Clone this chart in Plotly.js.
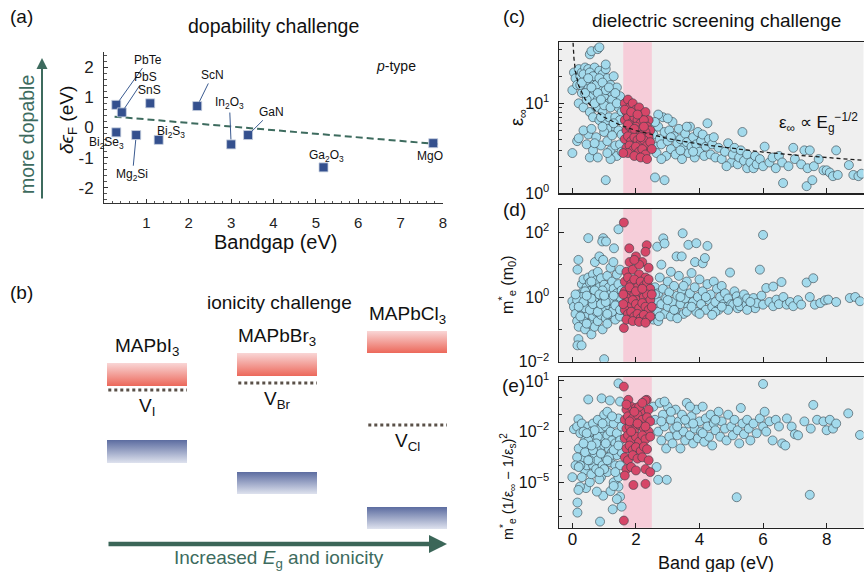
<!DOCTYPE html>
<html><head><meta charset="utf-8">
<script src="https://cdn.plot.ly/plotly-3.0.1.min.js"></script>
<style>html,body{margin:0;padding:0;background:#fff}#chart{width:864px;height:572px}</style>
</head><body><div id="chart"></div>
<script>
// ---------- Panel (a): dopability ----------
const dopNames = ['PbTe','PbS','SnS','ScN','In<sub>2</sub>O<sub>3</sub>','GaN','Bi<sub>2</sub>Se<sub>3</sub>','Mg<sub>2</sub>Si','Bi<sub>2</sub>S<sub>3</sub>','Ga<sub>2</sub>O<sub>3</sub>','MgO'];
const dopGap   = [0.29, 0.42, 1.09, 2.20, 3.00, 3.40, 0.29, 0.76, 1.29, 5.18, 7.77];
const dopShift = [0.75, 0.50, 0.80, 0.71, -0.56, -0.25, -0.16, -0.25, -0.41, -1.32, -0.52];
const fitGap = [0.25, 7.88];
const fitShift = [0.36, -0.55];

// ---------- Panel (b): ionicity schematic (relative energies) ----------
const perovskites = ['MAPbI<sub>3</sub>','MAPbBr<sub>3</sub>','MAPbCl<sub>3</sub>'];
const vacancies = ['V<sub>I</sub>','V<sub>Br</sub>','V<sub>Cl</sub>'];
const cbTop = [-2.65, -2.15, -1.05];
const cbBot = [-3.80, -3.30, -2.15];
const defectLevel = [-4.00, -3.65, -5.75];
const vbTop = [-6.50, -8.10, -9.85];
const vbBot = [-7.65, -9.20, -10.95];

// ---------- Panel (c): eps_inf vs gap ----------
const epsCyan = [[0.0,14],[0.05,22],[0.1,19],[0.15,16],[0.2,24],[0.25,20],[0.3,13],[0.3,22],[0.35,17],[0.4,25],[0.45,21],[0.5,15],[0.5,24],[0.55,19],[0.6,12],[0.6,22],[0.65,17],[0.7,25],[0.7,14],[0.75,20],[0.8,11],[0.8,18],[0.85,23],[0.9,15],[0.95,21],[1.0,12],[1.0,17],[1.05,24],[1.1,14],[1.1,19],[1.15,10],[1.2,16],[1.25,13],[1.3,20],[1.35,11],[1.4,15],[1.45,9],[1.5,12],[1.55,8],
[0.55,35],[0.6,38],[0.8,40],[0.85,42],[1.05,27],[0.2,10],[0.35,9],[0.45,11],[0.55,8],[0.65,7],[0.75,9],[0.85,6.5],[0.95,8],[1.05,6],[1.15,7],[1.25,5.5],[1.35,7],[1.45,5],[1.5,6.5],[1.55,4.5],
[0.25,16],[0.35,21],[0.45,18],[0.55,22],[0.65,20],[0.75,16],[0.85,19],[0.95,17],[1.05,14],[1.15,15],[1.25,11],[1.35,13],[0.4,13],[0.6,15],[0.8,13],[1.0,9.5],[1.2,9],[0.7,10],[0.9,11],[0.3,17],[0.5,19],[1.4,10],[0.9,7],[1.1,5.2],[1.3,6],
[0.0,2.8],[0.15,3.8],[0.2,4.1],[0.45,3.5],[0.5,4.5],[0.55,2.5],[0.65,3],[0.75,4.2],[0.8,2.5],[0.9,3.4],[1.0,4.8],[1.05,1.4],[1.1,3.8],[1.2,3],[1.25,4.4],[1.35,3.4],[1.4,2.6],[1.5,3.5],[1.55,2.9],[0.35,5],[0.6,5.2],[0.95,5.5],[1.2,2.4],[0.7,3.6],[1.1,2.8],
[2.55,4.5],[2.6,3.3],[2.65,2.8],[2.7,5.5],[2.75,4],[2.8,3.5],[2.85,7],[2.9,4.8],[2.95,2.6],[3.0,3.8],[3.05,5],[3.1,3.1],[3.15,6.2],[3.2,4.3],[3.25,2.7],[3.3,3.6],[3.35,5.2],[3.4,4],[3.45,2.4],[3.5,3.2],[3.55,4.6],[3.6,3.7],[3.65,2.8],[3.7,5.5],[3.75,3.3],[3.8,4.2],[3.85,2.5],[3.9,3.5],[3.95,4.8],[4.0,2.9],[4.05,3.8],[4.1,4.5],[4.15,2.6],[4.2,3.3],[4.25,6],[4.3,4],[4.35,2.7],[4.4,3.5],[4.45,4.2],[4.5,2.5],[2.6,1.5],[2.9,1.4],[2.7,7.5],[3.0,6.8],[2.6,6.2],[2.8,2.4],[3.1,4.2],[3.4,3],[3.6,5.5],[3.8,2.9],
[4.6,3.2],[4.7,2.4],[4.8,2.9],[4.9,3.6],[5.0,2.2],[5.05,2.7],[5.1,3.2],[5.2,2.1],[5.25,2.5],[5.3,3.0],[5.4,2.3],[5.5,1.9],[5.5,2.7],[5.6,2.2],[5.7,1.9],[5.75,2.6],[5.8,2.1],[5.9,2.4],[6.0,2.0],[6.05,3.3],[6.2,2.2],[6.3,2.5],[6.4,1.9],[5.35,4.8],[4.85,2.0],[6.5,2.6],
[6.6,2.2],[6.63,1.3],[6.8,2.0],[6.95,3.2],[7.0,2.4],[7.2,2.1],[7.3,3.0],[7.37,1.2],[7.4,1.9],[7.47,3.0],[7.55,1.4],[7.6,2.0],[7.75,2.4],[7.9,1.8],[8.0,1.8],[8.1,1.7],[8.2,1.55],[8.3,3.0],[8.35,1.6],[8.7,2.06],[8.84,1.6],[9.0,1.55],[9.1,1.65]];
const epsRed = [[1.65,10],[1.75,11],[1.7,8],[1.8,9],[1.9,10],[2.0,8.5],[2.1,9],[2.2,7.5],[2.3,8],[2.4,6.5],[1.65,6.5],[1.75,7],[1.85,6],[1.95,7],[2.05,6.5],[2.15,6],[2.25,6.5],[2.35,5.5],[2.45,5],[1.7,5],[1.8,5.5],[1.9,4.8],[2.0,5.5],[2.1,5],[2.2,4.5],[2.3,4.8],[2.4,4.2],[1.65,4],[1.75,4.3],[1.85,3.8],[1.95,4.2],[2.05,3.9],[2.15,3.6],[2.25,3.9],[2.35,3.4],[2.45,3.7],[1.7,3.2],[1.8,3.4],[1.9,3],[2.0,3.3],[2.1,2.9],[2.2,3.1],[2.3,2.7],[1.75,2.8],[1.95,2.6],[2.15,2.5],[2.35,2.4],[1.6,2.8],[2.5,3.1],[1.65,8.5],[1.85,8],[2.05,7.5],[1.75,5.8],[2.25,5.5],[1.95,5.2],[2.15,4.2]];
const epsFitGap = [0.022,0.03,0.05,0.1,0.2,0.4,0.7,1,1.5,2,3,4,5,6,7,8,9.2];
const epsFitVal = [47,40.6,31.5,22.3,15.7,11.1,8.4,7.0,5.75,4.98,4.06,3.52,3.15,2.87,2.66,2.49,2.32];

// ---------- Panel (d): effective mass ----------
const massCyan = [[0.0,0.74],[0.05,0.5],[0.1,0.3],[0.15,0.18],[0.2,0.12],[0.19,14],[0.16,7],[0.19,0.05],[0.16,0.032],[0.29,0.032],[0.2,1.2],[0.25,0.8],[0.3,2.5],[0.3,0.4],[0.35,3.5],[0.35,1.5],[0.35,0.2],[0.4,0.9],[0.4,0.1],[0.45,2],[0.45,0.6],[0.5,4],[0.5,1.2],[0.5,0.3],[0.55,0.15],[0.55,2.8],[0.55,0.8],[0.6,1.6],[0.6,0.45],[0.6,0.07],[0.65,5],[0.65,1],[0.65,0.25],[0.7,2.2],[0.7,0.6],[0.7,0.12],[0.71,12],[0.75,3.3],[0.75,1.3],[0.75,0.35],[0.8,0.8],[0.8,0.18],[0.8,6],[0.85,18],[0.85,2],[0.85,0.5],[0.9,1.1],[0.9,0.28],[0.9,3.8],[0.95,0.7],[0.95,0.1],[0.97,14],[0.97,66],[0.94,52],[1.06,52],[1.0,0.012],[1.0,2.4],[1.0,0.4],[1.05,1.5],[1.05,0.22],[1.1,0.9],[1.1,4.5],[1.1,0.15],[1.15,2],[1.15,0.55],[1.2,1.2],[1.2,0.3],[1.2,8],[1.25,3],[1.25,0.7],[1.29,12],[1.3,0.45],[1.3,1.8],[1.31,32],[1.35,0.9],[1.35,0.2],[1.4,5],[1.4,1.3],[1.4,0.35],[1.45,124],[1.45,0.6],[1.45,2.5],[1.5,1],[1.5,0.25],[1.5,7],[1.55,1.6],[1.55,0.4],[0.5,66],[0.4,1.5],[0.25,0.25],[0.45,0.15],[0.6,3],[0.3,1],[0.15,0.8],[0.1,1.2],[0.5,0.6],[0.95,1.6],[0.7,1.6],[1.15,0.8],[0.25,0.5],[0.4,0.45],[0.55,0.4],[0.65,0.6],[0.8,0.35],[0.9,0.6],[1.05,0.7],[1.25,0.35],[1.35,0.55],[1.5,0.4],[0.6,0.9],[0.85,1.2],[1.0,1.1],[1.3,1.1],[0.35,0.7],[0.45,1.1],[1.1,0.3],[0.2,0.5],
[2.55,0.2],[2.6,0.5],[2.6,2],[2.65,0.8],[2.67,36],[2.7,1.3],[2.7,0.35],[2.75,4],[2.8,0.6],[2.8,10],[2.85,1.8],[2.86,65],[2.9,45],[2.9,0.3],[2.95,0.9],[3.0,3],[3.0,0.5],[3.05,1.4],[3.1,0.25],[3.1,6],[3.15,0.7],[3.2,2.2],[3.25,0.4],[3.28,18],[3.3,1.1],[3.35,4.5],[3.4,0.6],[3.44,18],[3.45,1.6],[3.47,93],[3.5,0.3],[3.55,0.9],[3.6,3],[3.65,41],[3.65,0.5],[3.7,1.3],[3.75,5.5],[3.8,0.7],[3.86,12],[3.85,2],[3.9,46],[3.9,0.35],[3.95,1],[4.0,3.5],[4.05,0.6],[4.1,11],[4.1,1.5],[4.17,16],[4.2,0.4],[4.25,38],[4.25,2.5],[4.3,0.8],[4.35,1.2],[4.4,0.5],[4.45,3],[4.5,0.7],[4.55,1.8],[4.6,0.4],[4.65,1],[4.7,2.2],[4.75,0.6],[4.8,1.3],[4.85,0.5],[4.9,0.9],[4.96,5.7],[5.0,0.6],[5.06,0.58],[5.1,1.5],[5.17,1.05],[5.2,0.45],[5.27,0.52],[5.3,0.8],[5.4,1.2],[5.48,0.58],[5.5,0.9],[5.6,0.5],[5.7,0.93],[5.75,0.45],[5.8,0.65],[5.9,7],[5.95,1.1],[6.0,0.58],[6.0,83],[6.1,1.9],[6.2,0.7],[6.32,2.1],[6.32,0.52],[6.42,0.83],[6.5,0.6],[6.58,2.9],[6.64,1.0],[6.74,0.58],[6.85,0.7],[6.95,0.52],[7.1,0.8],[7.2,0.58],[7.37,2.8],[7.47,1.0],[7.58,3.8],[7.63,0.58],[7.8,0.65],[7.95,0.79],[8.05,0.83],[8.3,0.7],[8.73,0.93],[8.9,1.0],[9.05,0.74],[4.0,0.3],[3.3,0.22],[2.7,0.18],[5.5,0.4],[4.5,0.35],[2.75,0.25],[3.2,0.4],[3.6,0.35],[3.75,0.5],[4.4,0.28],[4.9,0.4],[3.0,0.8],[3.4,1.0],[2.6,1.2],[3.5,2.2],[4.2,1.0],[4.7,0.5],[5.2,0.7],[5.6,0.7]];
const massRed = [[1.62,200],[1.62,0.11],[1.79,32],[2.34,40],[2.3,25],[2.0,18],[1.8,12],[2.2,12],[2.4,8],[1.7,6],[1.9,7],[2.1,5],[2.3,4],[1.65,3],[1.75,4],[1.85,2.5],[1.95,3.5],[2.05,2],[2.15,3],[2.25,2.2],[2.35,2.8],[2.45,1.8],[1.65,1.5],[1.75,1],[1.85,1.6],[1.95,1.2],[2.05,0.9],[2.15,1.4],[2.25,1],[2.35,1.2],[2.45,0.8],[1.7,0.7],[1.8,0.5],[1.9,0.8],[2.0,0.6],[2.1,0.45],[2.2,0.65],[2.3,0.5],[2.4,0.4],[1.65,0.4],[1.75,0.3],[1.85,0.35],[1.95,0.25],[2.05,0.3],[2.15,0.22],[2.25,0.28],[2.35,0.2],[2.45,0.25],[1.7,0.2],[1.9,0.18],[2.1,0.17],[2.3,0.16],[1.8,2],[2.0,1.5],[2.2,1.8],[2.4,3.5],[1.6,0.6],[1.6,1.2],[2.5,0.5],[2.5,1.2],[2.1,10],[1.95,14]];

// ---------- Panel (e): screened mass figure ----------
const scrCyan = [[1.45,7.2],[0.5,0.8],[0.92,0.93],[1.18,0.7],[1.5,0.6],[0.05,0.014],[0.19,0.054],[0.15,0.02],[0.3,0.03],[0.25,0.008],[0.0,2e-5],[0.16,1.6e-7],[0.16,6.3e-7],[0.87,4.7e-8],[1.27,2.5e-7],[1.55,3.6e-7],[1.5,1.4e-6],[0.97,1.6e-6],[0.77,2.8e-6],[0.43,4.5e-6],[0.24,5.5e-6],[0.19,3.5e-6],[1.45,5.5e-6],
[0.3,1e-3],[0.35,3e-4],[0.4,3e-3],[0.4,5e-5],[0.45,1e-4],[0.5,1e-3],[0.5,2e-2],[0.55,5e-4],[0.55,1e-5],[0.6,4e-3],[0.6,3e-5],[0.65,1e-4],[0.65,0.03],[0.7,1.5e-3],[0.7,4e-4],[0.75,8e-3],[0.75,6e-5],[0.8,2e-4],[0.8,0.05],[0.85,3e-3],[0.85,8e-4],[0.9,1.5e-2],[0.9,2e-5],[0.95,1e-4],[0.95,5e-3],[1.0,1.5e-3],[1.0,0.1],[1.05,3e-4],[1.05,0.02],[1.1,6e-3],[1.1,4e-5],[1.15,1e-3],[1.15,0.04],[1.2,1.5e-4],[1.2,1e-2],[1.25,3e-3],[1.25,6e-4],[1.3,0.03],[1.3,1e-5],[1.35,2e-3],[1.35,1e-4],[1.4,8e-3],[1.4,4e-4],[1.45,0.06],[1.45,2e-5],[1.5,3e-3],[1.5,1e-4],[1.55,0.02],[1.55,6e-4],[0.35,0.01],[0.2,1e-3],[0.15,3e-4],[0.1,1e-4],[0.25,1e-4],[0.3,2e-5],[0.45,1.5e-3],[0.6,0.01],[0.7,3e-3],[0.85,1.5e-5],[1.0,6e-5],[1.2,3e-6],[1.3,6e-6],[1.4,1e-6],[1.1,0.15],[0.8,5e-3],[0.5,3e-3],[0.4,6e-4],[0.55,2e-4],[0.65,8e-4],[0.75,2e-3],[0.9,5e-4],[1.05,2e-3],[1.15,3e-4],[1.3,8e-4],[1.45,1.5e-3],[0.6,1.5e-3],[0.95,0.03],[1.25,0.08],[0.7,0.012],[0.45,8e-3],[0.35,2e-3],[0.5,2e-4],[0.85,4e-5],[1.1,2e-4],[1.35,4e-5],[0.2,8e-5],
[2.55,0.3],[2.6,0.05],[2.65,8e-5],[2.7,1.4e-5],[2.97,1.4e-5],[2.7,0.01],[2.75,0.5],[2.8,3e-3],[2.85,0.1],[2.9,0.02],[2.95,1e-3],[3.0,0.3],[3.05,5e-3],[3.1,0.05],[3.15,2e-3],[3.2,0.015],[3.25,0.2],[3.3,6e-3],[3.35,0.04],[3.4,1e-3],[3.45,0.1],[3.5,0.01],[3.55,3e-3],[3.6,0.5],[3.65,0.03],[3.7,6e-3],[3.75,0.08],[3.8,2e-3],[3.85,0.015],[3.9,0.2],[3.95,4e-3],[4.0,0.04],[4.05,0.01],[4.1,0.3],[4.15,2.5e-3],[4.2,0.06],[4.25,0.02],[4.3,5e-3],[4.35,0.1],[4.4,1.5e-3],[4.45,0.03],[4.5,0.012],[4.6,0.15],[4.65,5e-3],[4.7,0.04],[4.8,0.015],[4.85,3e-3],[4.9,0.1],[5.0,0.02],[5.05,6e-3],[5.1,0.05],[5.17,1.3e-6],[5.2,0.012],[5.25,2e-3],[5.3,0.25],[5.35,0.03],[5.4,7e-3],[5.5,0.05],[5.55,0.015],[5.6,3e-3],[5.7,0.03],[5.8,8e-3],[5.9,0.06],[6.0,6.6],[6.0,0.02],[6.05,0.15],[6.1,0.01],[6.2,0.04],[6.3,3e-3],[6.4,0.05],[6.5,0.02],[6.6,2e-3],[6.7,1.5e-3],[6.75,0.06],[6.9,0.02],[7.0,7e-3],[7.1,6e-3],[7.3,0.04],[7.47,1.8e-6],[7.5,0.015],[7.58,0.38],[7.7,0.05],[7.9,0.04],[8.0,0.012],[8.1,0.05],[8.2,0.015],[8.3,0.03],[8.68,0.12],[9.05,6.3e-3],[2.9,0.6],[3.3,0.02],[3.55,0.05],[3.8,0.03],[4.1,0.008],[4.5,0.05],[2.8,0.04],[3.1,0.15],[3.7,0.3]];
const scrRed = [[1.62,4.6],[1.62,5.4e-8],[1.92,6.9e-6],[2.3,8e-6],[1.76,0.76],[2.34,0.76],[2.3,0.7],[1.7,0.2],[1.85,0.3],[2.0,0.25],[2.15,0.15],[2.4,0.2],[1.65,0.05],[1.75,0.08],[1.9,0.06],[2.05,0.1],[2.2,0.05],[2.35,0.07],[2.45,0.04],[1.7,0.015],[1.8,0.02],[1.95,0.012],[2.1,0.025],[2.25,0.015],[2.4,0.01],[1.65,4e-3],[1.75,6e-3],[1.85,3e-3],[2.0,5e-3],[2.1,2.5e-3],[2.2,6e-3],[2.3,3.5e-3],[2.45,5e-3],[1.7,1e-3],[1.8,1.5e-3],[1.9,8e-4],[2.0,1.2e-3],[2.15,7e-4],[2.25,1.3e-3],[2.35,9e-4],[1.65,3e-4],[1.75,2e-4],[1.9,4e-4],[2.05,2.5e-4],[2.2,3e-4],[2.4,2e-4],[1.7,6e-5],[1.85,8e-5],[2.0,5e-5],[2.3,6e-5],[2.45,4e-5],[1.65,2.5e-5],[1.8,0.04],[2.1,0.3],[2.2,0.5],[1.95,0.15],[1.7,0.4],[2.05,0.03],[2.3,0.02],[1.85,0.01]];

// ---------- figure ----------
const W = 864, H = 572;
const px = X => X / W, py = Y => 1 - Y / H;
const FONT = 'Liberation Sans, Arial, Helvetica, sans-serif';
const TEAL = '#3d6b5e';
const CYAN = 'rgb(163,218,236)', RED = 'rgb(214,70,104)', EDGE = 'rgba(50,65,72,0.85)';
const xs = a => a.map(p => p[0]), ys = a => a.map(p => p[1]);

const traces = [];
// (a)
traces.push({x: fitGap, y: fitShift, xaxis:'x', yaxis:'y', mode:'lines', line:{color:TEAL, width:2, dash:'7px,4px'}, hoverinfo:'skip'});
traces.push({x: dopGap, y: dopShift, xaxis:'x', yaxis:'y', mode:'markers', marker:{symbol:'square', size:9, color:'#34508e', line:{color:'#c8d0e0', width:0.8}}, text: dopNames});

// (b) bars with vertical gradients
const hw = 0.3077;
perovskites.forEach((m, i) => {
  traces.push({x:[i-hw,i+hw,i+hw,i-hw,i-hw], y:[cbBot[i],cbBot[i],cbTop[i],cbTop[i],cbBot[i]], xaxis:'x2', yaxis:'y2', mode:'lines', line:{width:0}, fill:'toself',
    fillgradient:{type:'vertical', colorscale:[[0,'rgb(236,104,90)'],[1,'rgb(249,214,214)']]}, hoverinfo:'skip'});
  traces.push({x:[i-hw,i+hw,i+hw,i-hw,i-hw], y:[vbBot[i],vbBot[i],vbTop[i],vbTop[i],vbBot[i]], xaxis:'x2', yaxis:'y2', mode:'lines', line:{width:0}, fill:'toself',
    fillgradient:{type:'vertical', colorscale:[[0,'rgb(222,226,238)'],[1,'rgb(92,108,160)']]}, hoverinfo:'skip'});
  traces.push({x:[i-hw+0.01,i+hw], y:[defectLevel[i],defectLevel[i]], xaxis:'x2', yaxis:'y2', mode:'lines', line:{color:'#5a5048', width:3, dash:'dot'}, hoverinfo:'skip'});
});

// (c)(d)(e)
const sc = (d, xa, ya, col) => ({x: xs(d), y: ys(d), xaxis: xa, yaxis: ya, mode:'markers', marker:{size:9, color:col, line:{color:EDGE, width:0.7}}, hoverinfo:'x+y'});
traces.push(sc(epsCyan,'x3','y3',CYAN));
traces.push(sc(epsRed,'x3','y3',RED));
traces.push({x: epsFitGap, y: epsFitVal, xaxis:'x3', yaxis:'y3', mode:'lines', line:{color:'#1a1a1a', width:1.3, dash:'4px,3px'}, hoverinfo:'skip'});
traces.push(sc(massCyan,'x4','y4',CYAN));
traces.push(sc(massRed,'x4','y4',RED));
traces.push(sc(scrCyan,'x5','y5',CYAN));
traces.push(sc(scrRed,'x5','y5',RED));

const rightDom = [px(558.7), px(863.5)];
const xr = [-0.43, 9.16];
const baseX = {domain: rightDom, range: xr, tickvals:[0,2,4,6,8], ticks:'inside', ticklen:5, tickcolor:'#222', showline:true, mirror:true, linecolor:'#222', linewidth:1.2, showgrid:false, zeroline:false, showticklabels:false};
const baseY = {type:'log', ticks:'inside', ticklen:5, tickcolor:'#222', showline:true, mirror:true, linecolor:'#222', linewidth:1.2, showgrid:false, zeroline:false, tickfont:{size:16, color:'#111'}, ticklabelstandoff:5};

const layout = {
  width: W, height: H, margin:{l:0,r:0,t:0,b:0}, paper_bgcolor:'#fff', plot_bgcolor:'rgba(0,0,0,0)', showlegend:false,
  font:{family: FONT, color:'#222', size:14},
  xaxis:{domain:[px(104), px(443)], range:[0,8], anchor:'y', tickvals:[1,2,3,4,5,6,7,8], ticks:'inside', ticklen:4, tickcolor:'#333',
    minor:{ticks:'inside', ticklen:2.5, dtick:0.2, tickcolor:'#555'}, showline:true, linecolor:'#333', linewidth:1, showgrid:false, zeroline:false,
    tickfont:{size:15, color:'#222'}, ticklabelstandoff:6},
  yaxis:{domain:[py(203), py(52)], range:[-2.5,2.5], anchor:'x', tickvals:[-2,-1,0,1,2], ticktext:['-2','-1','0','1','2'], ticks:'inside', ticklen:4, tickcolor:'#333',
    minor:{ticks:'inside', ticklen:2.5, dtick:0.2, tickcolor:'#555'}, showline:true, linecolor:'#333', linewidth:1, showgrid:false, zeroline:false,
    tickfont:{size:17, color:'#222'}, ticklabelstandoff:6},
  xaxis2:{domain:[px(107), px(447)], range:[-hw, 2+hw], anchor:'y2', visible:false},
  yaxis2:{domain:[py(550), py(310)], range:[-12, 0], anchor:'x2', visible:false},
  xaxis3:Object.assign({}, baseX, {anchor:'y3'}),
  xaxis4:Object.assign({}, baseX, {anchor:'y4', matches:'x3'}),
  xaxis5:Object.assign({}, baseX, {anchor:'y5', matches:'x3', showticklabels:true, tickfont:{size:17, color:'#111'}, ticklabelstandoff:-4}),
  yaxis3:Object.assign({}, baseY, {domain:[py(193.3), py(42.3)], anchor:'x3', range:[0, 1.678], tickvals:[1,10], ticktext:['10<sup>0</sup>','10<sup>1</sup>'],
    minor:{ticks:'inside', ticklen:3, tickcolor:'#333', tickvals:[2,3,4,5,6,7,8,9,20,30,40]}}),
  yaxis4:Object.assign({}, baseY, {domain:[py(361.7), py(209)], anchor:'x4', range:[-2, 2.72], tickvals:[0.01,1,100], ticktext:['10<sup>−2</sup>','10<sup>0</sup>','10<sup>2</sup>'],
    minor:{ticks:'inside', ticklen:3, tickcolor:'#333', tickvals:[0.1,10]}}),
  yaxis5:Object.assign({}, baseY, {domain:[py(527.7), py(376.7)], anchor:'x5', range:[-7.69, 1.25], tickvals:[1e-5,1e-2,10], ticktext:['10<sup>−5</sup>','10<sup>−2</sup>','10<sup>1</sup>'],
    minor:{ticks:'inside', ticklen:3, tickcolor:'#333', tickvals:[1e-7,1e-6,1e-4,1e-3,1e-1,1]}}),
  shapes: [],
  annotations: []
};

['3','4','5'].forEach(k => {
  layout.shapes.push({type:'rect', xref:'x'+k+' domain', yref:'y'+k+' domain', x0:0, x1:1, y0:0, y1:1, fillcolor:'#efefef', line:{width:0}, layer:'below'});
  layout.shapes.push({type:'rect', xref:'x'+k, yref:'y'+k+' domain', x0:1.6, x1:2.5, y0:0, y1:1, fillcolor:'#f6cdd9', line:{width:0}, layer:'below'});
});

const A = layout.annotations;
const txt = (X, Y, text, size, extra) => A.push(Object.assign({xref:'paper', yref:'paper', x:px(X), y:py(Y), xanchor:'center', yanchor:'middle', text, showarrow:false, font:{size, family:FONT, color:'#111'}}, extra||{}));

// panel labels & titles
txt(21, 17, '(a)', 19); txt(21, 293, '(b)', 19); txt(514, 17, '(c)', 19); txt(514, 209, '(d)', 19); txt(513, 385, '(e)', 19);
txt(273, 26, 'dopability challenge', 19.5);
txt(279, 302, 'ionicity challenge', 19);
txt(716, 20, 'dielectric screening challenge', 19);
txt(396, 66, '<i>p</i>-type', 14);
txt(275, 242, 'Bandgap (eV)', 20);
txt(68, 120, '<i>δϵ</i><sub>F</sub> (eV)', 19, {textangle:-90});
txt(27, 135, 'more dopable', 19.5, {textangle:-90, font:{size:19.5, family:FONT, color:TEAL}});
A.push({xref:'paper', yref:'paper', x:px(42), y:py(58), ax:0, ay:142, text:'', showarrow:true, arrowhead:2, arrowsize:1.1, arrowwidth:2, arrowcolor:TEAL});
txt(716, 563, 'Band gap (eV)', 18);
txt(519, 118, 'ε<sub>∞</sub>', 18, {textangle:-90});
txt(507, 285, 'm<sup>*</sup><sub>e</sub> (m<sub>0</sub>)', 16, {textangle:-90});
txt(508, 486, 'm<sup>*</sup><sub>e</sub> (1/ε<sub>∞</sub> − 1/ε<sub>s</sub>)<sup>2</sup>', 14.5, {textangle:-90});
txt(818, 123, 'ε<sub>∞</sub> ∝ E<sub>g</sub><sup>−1/2</sup>', 17);

// point labels for (a): [label x, label y, leader line?]
const labelPos = [[1.05,2.25,true],[0.98,1.68,true],[1.07,1.24,false],[2.56,1.74,true],[2.96,0.81,true],[3.95,0.52,true],[0.06,-0.5,true],[0.67,-1.58,true],[1.57,-0.16,false],[5.25,-0.95,false],[7.69,-0.95,false]];
dopNames.forEach((n, i) => {
  const [lx, ly, arr] = labelPos[i];
  if (arr) {
    A.push({xref:'x', yref:'y', x:dopGap[i], y:dopShift[i], axref:'x', ayref:'y', ax:lx, ay:ly, text:n, showarrow:true, arrowhead:0, arrowwidth:1, arrowcolor:'#3a5a90', standoff:5, font:{size:12, family:FONT, color:'#111'}});
  } else {
    A.push({xref:'x', yref:'y', x:lx, y:ly, text:n, showarrow:false, xanchor:'center', yanchor:'middle', font:{size:12, family:FONT, color:'#111'}});
  }
});

// (b) labels
perovskites.forEach((m, i) => {
  A.push({xref:'x2', yref:'y2', x:i, y:cbTop[i], text:m, showarrow:false, xanchor:'center', yanchor:'bottom', yshift:2, font:{size:19, family:FONT, color:'#111'}});
  A.push({xref:'x2', yref:'y2', x:i, y:defectLevel[i], text:vacancies[i], showarrow:false, xanchor:'center', yanchor:'top', yshift:-3, font:{size:19, family:FONT, color:'#111'}});
});
A.push({xref:'x2', yref:'y2', axref:'x2', ayref:'y2', x:2+hw, y:-11.7, ax:-hw, ay:-11.7, text:'', showarrow:true, arrowhead:2, arrowsize:0.8, arrowwidth:4.5, arrowcolor:'#3b6658', standoff:0, startstandoff:0});
txt(279, 559, 'Increased <i>E</i><sub>g</sub> and ionicity', 19, {font:{size:19, family:FONT, color:TEAL}});

Plotly.newPlot('chart', traces, layout, {staticPlot:true, displayModeBar:false});
</script></body></html>
